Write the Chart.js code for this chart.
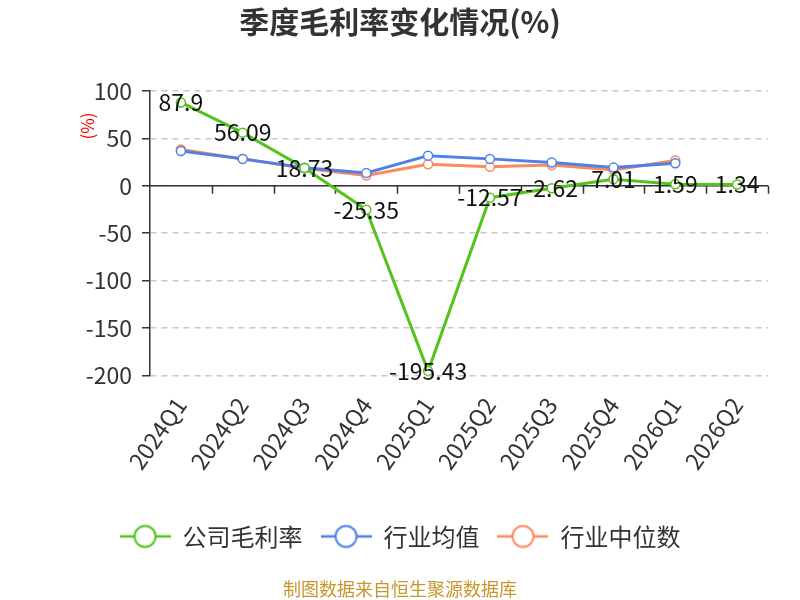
<!DOCTYPE html>
<html lang="zh">
<head>
<meta charset="UTF-8">
<title>季度毛利率变化情况(%)</title>
<script src="https://cdn.jsdelivr.net/npm/chart.js"></script>
<style>
  html, body { margin: 0; padding: 0; background: #fff; }
  #wrap { width: 800px; height: 600px; }
</style>
</head>
<body>
<div id="wrap"><canvas id="marginChart" width="800" height="600"></canvas></div>
<script>
// data
const quarters = ['2024Q1', '2024Q2', '2024Q3', '2024Q4', '2025Q1', '2025Q2', '2025Q3', '2025Q4', '2026Q1', '2026Q2'];
const companyMargin = [87.9, 56.09, 18.73, -25.35, -195.43, -12.57, -2.62, 7.01, 1.59, 1.34];
const industryMean = [36.8, 28.4, 19.0, 13.6, 31.8, 28.4, 24.5, 19.2, 23.7, null];
const industryMedian = [38.4, 28.4, 18.5, 10.8, 22.7, 20.0, 22.0, 16.8, 26.6, null];
const seriesNames = ['公司毛利率', '行业均值', '行业中位数'];
const seriesColors = ['#52c41a', '#4e80e8', '#fb8b5e'];

const FONT = '"Noto Sans CJK SC", "Noto Sans", sans-serif';

// legend icon: short line with hollow circle
function legendIcon(color) {
    const c = document.createElement('canvas');
    c.width = 51; c.height = 26;
    const ctx = c.getContext('2d');
    ctx.strokeStyle = color;
    ctx.lineWidth = 2.5;
    ctx.beginPath(); ctx.moveTo(0, 13); ctx.lineTo(51, 13); ctx.stroke();
    ctx.fillStyle = '#fff';
    ctx.lineWidth = 2;
    ctx.beginPath(); ctx.arc(25.5, 13, 10.5, 0, Math.PI * 2); ctx.fill(); ctx.stroke();
    return c;
}

// zero line with ticks, value labels and axis unit
const extras = {
    id: 'extras',
    beforeDatasetsDraw(chart) {
        const ctx = chart.ctx, x = chart.scales.x, y = chart.scales.y;
        const y0 = y.getPixelForValue(0);
        const step = (x.right - x.left) / quarters.length;
        ctx.save();
        ctx.strokeStyle = '#333';
        ctx.lineWidth = 1.5;
        ctx.beginPath();
        ctx.moveTo(x.left, y0); ctx.lineTo(x.right, y0);
        for (let i = 1; i <= quarters.length; i++) {
            const px = Math.round(x.left + i * step) + 0.5;
            ctx.moveTo(px, y0); ctx.lineTo(px, y0 + 8);
        }
        ctx.stroke();
        ctx.restore();
    },
    afterDatasetsDraw(chart) {
        const ctx = chart.ctx;
        const meta = chart.getDatasetMeta(0);
        ctx.save();
        ctx.font = '23px ' + FONT;
        ctx.fillStyle = '#111';
        ctx.textAlign = 'center';
        ctx.textBaseline = 'middle';
        meta.data.forEach((pt, i) => {
            ctx.fillText(String(companyMargin[i]), pt.x, pt.y);
        });
        // axis unit
        const area = chart.chartArea;
        ctx.translate(area.left - 62, area.top + 35);
        ctx.rotate(-Math.PI / 2);
        ctx.font = '17px ' + FONT;
        ctx.fillStyle = '#ff0000';
        ctx.fillText('(%)', 0, 0);
        ctx.restore();
    }
};

function makeSet(i, data) {
    return {
        label: seriesNames[i],
        data: data,
        borderColor: seriesColors[i],
        backgroundColor: '#fff',
        borderWidth: 3,
        pointRadius: 4.5,
        pointBorderWidth: 1.5,
        pointBackgroundColor: '#fff',
        pointBorderColor: seriesColors[i],
        tension: 0,
        spanGaps: false
    };
}

const icons = seriesColors.map(legendIcon);

new Chart(document.getElementById('marginChart'), {
    type: 'line',
    data: {
        labels: quarters,
        datasets: [
            makeSet(0, companyMargin),
            makeSet(1, industryMean),
            makeSet(2, industryMedian)
        ]
    },
    options: {
        responsive: false,
        animation: false,
        layout: { padding: { left: 32, right: 32, top: 0, bottom: 0 } },
        plugins: {
            title: {
                display: true,
                text: '季度毛利率变化情况(%)',
                color: '#333',
                font: { family: FONT, size: 30, weight: 'bold' },
                padding: { top: 4, bottom: 51 }
            },
            subtitle: {
                display: true,
                position: 'bottom',
                text: '制图数据来自恒生聚源数据库',
                color: '#c8962e',
                font: { family: FONT, size: 18 },
                padding: { top: 20, bottom: 0 }
            },
            legend: {
                position: 'bottom',
                labels: {
                    usePointStyle: true,
                    pointStyleWidth: 51,
                    padding: 18,
                    color: '#333',
                    font: { family: FONT, size: 24 },
                    generateLabels(chart) {
                        const items = Chart.defaults.plugins.legend.labels.generateLabels(chart);
                        items.forEach((it, i) => { it.pointStyle = icons[i]; });
                        return items;
                    }
                }
            },
            tooltip: { enabled: false }
        },
        scales: {
            x: {
                offset: true,
                grid: { display: false },
                border: { display: false },
                afterFit(scale) { scale.height = 131; },
                ticks: {
                    color: '#333',
                    font: { family: FONT, size: 23 },
                    minRotation: 55,
                    maxRotation: 55,
                    padding: 9
                }
            },
            y: {
                min: -200,
                max: 100,
                afterFit(scale) { scale.width = 118; },
                ticks: {
                    stepSize: 50,
                    color: '#333',
                    padding: 10,
                    font: { family: FONT, size: 23 }
                },
                grid: {
                    color: '#c8c8c8',
                    lineWidth: 1.5,
                    tickColor: '#333',
                    tickLength: 8,
                    tickWidth: 1.5
                },
                border: { display: true, color: '#333', width: 1.5, dash: [6, 5] }
            }
        }
    },
    plugins: [extras]
});
</script>
</body>
</html>
